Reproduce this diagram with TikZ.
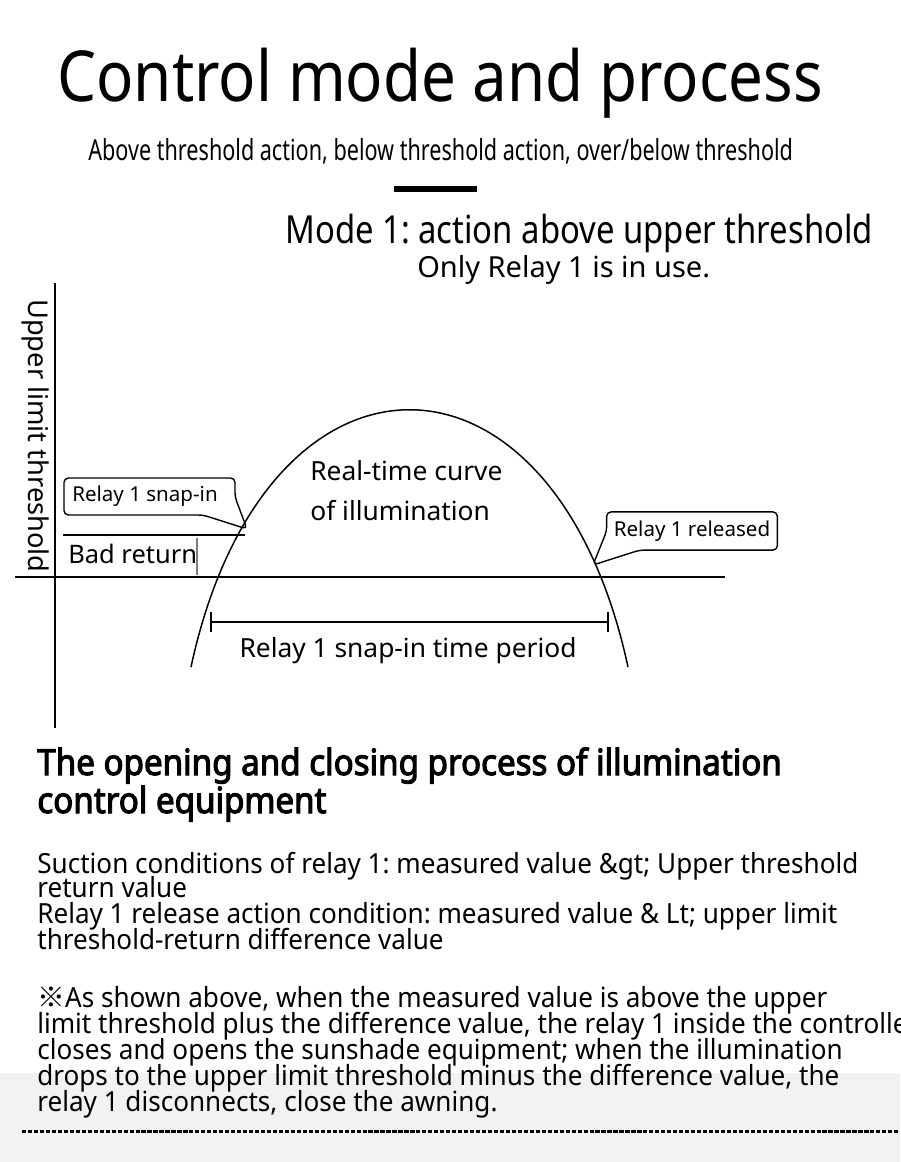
\documentclass[tikz,border=0pt]{standalone}
\usepackage{fontspec}
\setmainfont{Noto Sans}
\newfontfamily\cjkfont{Noto Sans CJK SC}
\newfontfamily\headfont{Noto Sans}[FakeBold=3]
\usetikzlibrary{calc}
\frenchspacing

\definecolor{bandgray}{RGB}{242,242,242}
\definecolor{cursorgray}{RGB}{125,125,125}

\tikzset{
  txt/.style={inner sep=0pt, anchor=base west},
  lbl/.style={inner sep=0pt, font=\fontsize{15}{15}\selectfont},
  bubble/.style={inner sep=0pt, minimum height=0.75cm, font=\fontsize{11.7}{11.7}\selectfont},
  bubbleline/.style={draw, line width=0.8pt, rounded corners=2.5pt},
  axisline/.style={line width=1.7pt},
  headstyle/.style={font=\headfont\fontsize{20.5}{20.5}\selectfont\addfontfeature{FakeStretch=0.92}},
  bodyfont/.style={font=\fontsize{15.8}{15.8}\selectfont\addfontfeature{FakeStretch=0.94}}
}

\begin{document}
\begin{tikzpicture}[x=0.02cm,y=-0.02cm]
    % page and grey band
    \useasboundingbox (0,0) rectangle (900,1162);
    \fill[bandgray] (0,1073) rectangle (900,1162);

    % headings
    \node[txt, font=\fontsize{40}{40}\selectfont\addfontfeature{FakeStretch=0.88}] (title) at (57,102) {Control mode and process};
    \node[txt, font=\fontsize{16.5}{16.5}\selectfont\addfontfeature{FakeStretch=0.745}] (subtitle) at (88,161) {Above threshold action, below threshold action, over/below threshold};
    \draw[line width=3.4pt] (394,189) -- (477,189);
    \node[txt, font=\fontsize{22}{22}\selectfont\addfontfeature{FakeStretch=0.85}] (mode) at (285,243) {Mode 1: action above upper threshold};
    \node[txt, font=\fontsize{16.5}{16.5}\selectfont] (only) at (417,277) {Only Relay 1 is in use.};

    % axes
    \coordinate (origin) at (55,577);
    \draw[axisline] (55,283) -- (55,728);
    \draw[axisline] (15,577) -- (725,577);
    \node[lbl, rotate=-90, font=\fontsize{15.5}{15.5}\selectfont] (ylabel) at (36,436) {Upper limit threshold};

    % illumination curve
    \draw[line width=0.85pt] (191,667) .. controls (265,324) and (554,324) .. (628,667);
    \node[lbl, anchor=base west] (curve1) at (310,480) {Real-time curve};
    \node[lbl, anchor=base west] (curve2) at (310,520) {of illumination};

    % return band
    \draw[line width=0.6pt] (63,535) -- (245,535);
    \node[lbl, anchor=base west, font=\fontsize{14.5}{14.5}\selectfont] (badret) at (68,563) {Bad return};
    \draw[cursorgray, line width=1.1pt] (197,538) -- (197,575);

    % callouts
    \coordinate (tipin) at (247,529);
    \coordinate (tipout) at (593,565);
    \node[bubble, minimum width=3.42cm] (snapin) at (145,496.5) {Relay 1 snap-in};
    \draw[bubbleline] (64,478) -- (235,478) -- (235,497) -- (tipin)
      -- (203,515) -- (64,515) -- cycle;
    \node[bubble, minimum width=3.4cm] (released) at (692,531) {Relay 1 released};
    \draw[bubbleline] (released.north west) -- (released.north east) -- (released.south east)
      -- ($(released.south west)+(33,0)$) -- (tipout) -- (released.west) -- cycle;

    % snap-in period
    \draw[line width=1.5pt] (211,622) -- (608,622);
    \draw[line width=1.5pt] (211,612) -- (211,632);
    \draw[line width=1.5pt] (608,612) -- (608,632);
    \node[lbl, anchor=base] (period) at (408,657) {Relay 1 snap-in time period};

    % process text
    \node[txt, headstyle] (process1) at (37,775) {The opening and closing process of illumination};
    \node[txt, headstyle] (process2) at (37,813) {control equipment};
    \foreach \y/\txt [count=\i] in {
      873/{Suction conditions of relay 1: measured value \&gt; Upper threshold},
      897/{return value},
      923/{Relay 1 release action condition: measured value \& Lt; upper limit},
      949/{threshold-return difference value}
    } {
      \node[txt, bodyfont] (cond\i) at (37,\y) {\txt};
    }
    \foreach \y/\txt [count=\i] in {
      1007/{{\cjkfont ※}As shown above, when the measured value is above the upper},
      1033/{limit threshold plus the difference value, the relay 1 inside the controller},
      1059/{closes and opens the sunshade equipment; when the illumination},
      1085/{drops to the upper limit threshold minus the difference value, the},
      1111/{relay 1 disconnects, close the awning.}
    } {
      \node[txt, bodyfont] (note\i) at (37,\y) {\txt};
    }

    % dashed rule
    \draw[line width=1.7pt, dash pattern=on 2.4pt off 1pt] (22,1131) -- (900,1131);
\end{tikzpicture}
\end{document}
